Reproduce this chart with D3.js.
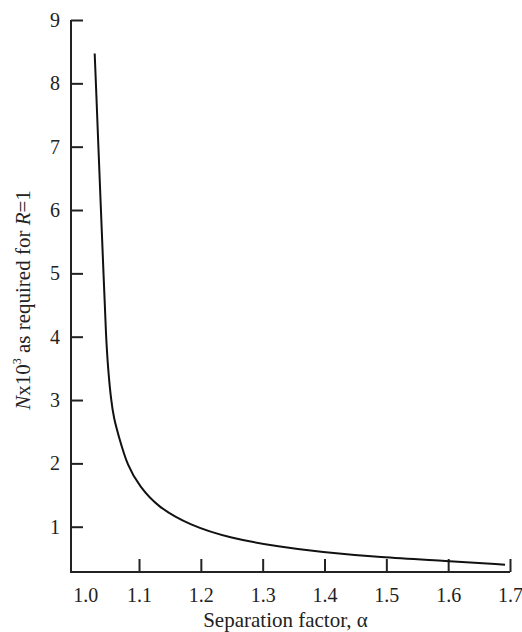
<!DOCTYPE html>
<html>
<head>
  <meta charset="utf-8">
  <title>N vs separation factor</title>
  <script src="https://d3js.org/d3.v7.min.js"></script>
  <style>
    body { margin: 0; background: #fff; }
  </style>
</head>
<body>
  <div id="chart"></div>

  <script>
    // separation factor (alpha) and N x 10^3
    const alpha = [1.0283, 1.0303, 1.0343, 1.0384, 1.0426, 1.0466, 1.0499, 1.0547, 1.0596, 1.0660, 1.0814, 1.1016, 1.1291, 1.1825, 1.2471, 1.328, 1.3927, 1.4897, 1.5976, 1.692];
    const nValues = [8.47, 8.0, 7.0, 6.0, 5.0, 4.0, 3.5, 3.0, 2.7, 2.47, 1.95, 1.63, 1.32, 1.02, 0.82, 0.68, 0.60, 0.515, 0.46, 0.40];
    const xTicks = [1.0, 1.1, 1.2, 1.3, 1.4, 1.5, 1.6, 1.7];
    const yTicks = [1, 2, 3, 4, 5, 6, 7, 8, 9];

    const W = 522, H = 632;
    const m = { left: 71, right: 510, top: 20, bottom: 572 };
    const serif = "Liberation Serif";
    const ink = "#222";

    const svg = d3.select("#chart")
      .append("svg")
      .attr("width", W)
      .attr("height", H)
      .attr("font-family", serif);

    const x = d3.scaleLinear().domain([0.99, 1.7]).range([m.left, m.right]);
    const y = d3.scaleLinear().domain([0.285, 9]).range([m.bottom, m.top]);

    // axes: ticks point inward, no domain ends
    const xAxis = svg.append("g")
      .attr("transform", `translate(0,${m.bottom})`)
      .call(d3.axisBottom(x).tickValues(xTicks).tickSize(-13).tickPadding(16).tickFormat(d3.format(".1f")))
      .attr("font-family", serif);
    xAxis.select(".domain").remove();
    xAxis.selectAll(".tick line").attr("stroke", ink).attr("stroke-width", 2)
      .filter(d => d === 1.0).remove();
    xAxis.selectAll(".tick text").attr("font-size", 20).attr("fill", ink)
      .attr("dx", d => d === 1.0 ? 8 : 0);

    const yAxis = svg.append("g")
      .attr("transform", `translate(${m.left},0)`)
      .call(d3.axisLeft(y).tickValues(yTicks).tickSize(-12).tickPadding(11).tickFormat(d3.format("d")))
      .attr("font-family", serif);
    yAxis.select(".domain").remove();
    yAxis.selectAll(".tick line").attr("stroke", ink).attr("stroke-width", 2);
    yAxis.selectAll(".tick text").attr("font-size", 20).attr("fill", ink);

    svg.append("path")
      .attr("d", `M${m.left},${y(9)}V${m.bottom}H${x(1.7)}`)
      .attr("fill", "none")
      .attr("stroke", ink)
      .attr("stroke-width", 2);

    const line = d3.line()
      .x((d, i) => x(alpha[i]))
      .y(d => y(d))
      .curve(d3.curveBasis);

    svg.append("path")
      .datum(nValues)
      .attr("fill", "none")
      .attr("stroke", "#111")
      .attr("stroke-width", 2)
      .attr("d", line);

    svg.append("text")
      .attr("x", (m.left + m.right) / 2 - 5)
      .attr("y", 627)
      .attr("text-anchor", "middle")
      .attr("font-size", 21)
      .attr("fill", ink)
      .text("Separation factor, α");

    const yl = svg.append("text")
      .attr("transform", "translate(30,300) rotate(-90)")
      .attr("text-anchor", "middle")
      .attr("font-size", 21)
      .attr("fill", ink);
    yl.append("tspan").attr("font-style", "italic").text("N");
    yl.append("tspan").text("x10");
    yl.append("tspan").attr("font-size", 12).attr("dy", -9).text("3");
    yl.append("tspan").attr("dy", 9).text(" as required for ");
    yl.append("tspan").attr("font-style", "italic").text("R");
    yl.append("tspan").text("=1");
  </script>
</body>
</html>
